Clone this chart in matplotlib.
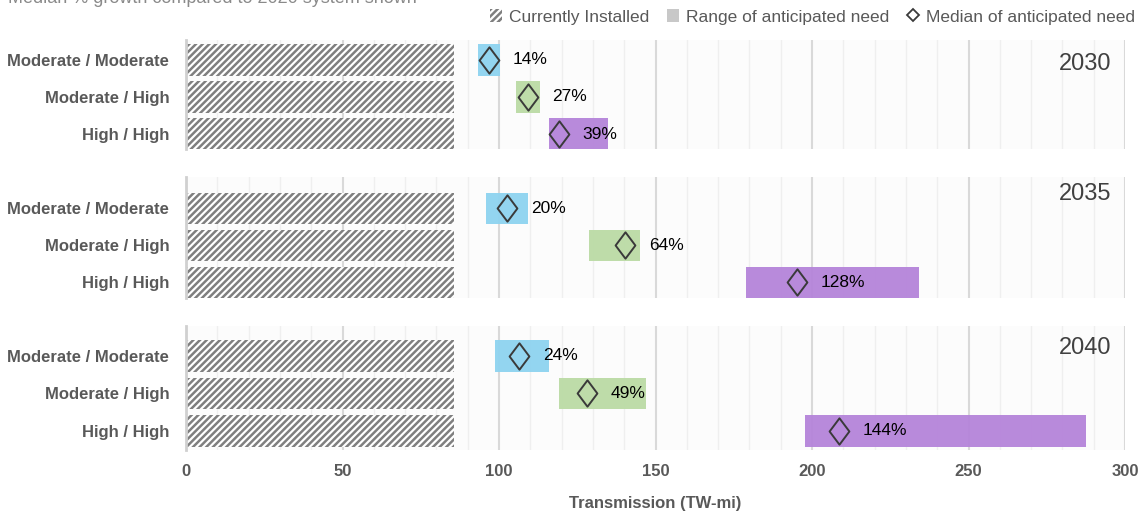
import matplotlib
matplotlib.use("Agg")
import matplotlib.pyplot as plt
from matplotlib import font_manager
from matplotlib.patches import Patch
from matplotlib.lines import Line2D
from matplotlib.path import Path
import numpy as np

names = {f.name for f in font_manager.fontManager.ttflist}
FONT = "Liberation Sans Narrow" if "Liberation Sans Narrow" in names else "Liberation Sans"
plt.rcParams["font.family"] = [FONT, "DejaVu Sans"]
plt.rcParams["hatch.linewidth"] = 1.8
plt.rcParams["hatch.color"] = "#7f7f7f"

# ---- data ----
years = ["2030", "2035", "2040"]
scenarios = ["Moderate / Moderate", "Moderate / High", "High / High"]
installed = 85.6
range_low = {"2030": [93.3, 105.4, 116.0],
             "2035": [95.8, 128.8, 178.9],
             "2040": [98.7, 119.2, 197.8]}
range_high = {"2030": [100.3, 113.1, 134.8],
              "2035": [109.3, 145.0, 234.2],
              "2040": [116.0, 147.0, 287.5]}
median = {"2030": [96.8, 109.3, 119.2],
          "2035": [102.6, 140.3, 195.2],
          "2040": [106.4, 128.1, 208.6]}
growth = {"2030": ["14%", "27%", "39%"],
          "2035": ["20%", "64%", "128%"],
          "2040": ["24%", "49%", "144%"]}
xticks = [0, 50, 100, 150, 200, 250, 300]

colors = ["#8ed3f0", "#bbdba5", "#b584da"]
gray_txt = "#595959"

W, H = 1145, 515
fig = plt.figure(figsize=(W / 100, H / 100), dpi=100)

diamond = Path([(0, 1), (0.75, 0), (0, -1), (-0.75, 0), (0, 1)],
               [Path.MOVETO, Path.LINETO, Path.LINETO, Path.LINETO, Path.CLOSEPOLY])

# panel pixel layout: (top, bottom, ylim_top, ylim_bottom, year_y)
panels = [(40, 149, -0.54, 2.405, 0.12),
          (177, 298, -0.84, 2.43, -0.38),
          (326, 450, -0.80, 2.51, -0.20)]
x0, x1 = 186, 1125

for i, yr in enumerate(years):
    top, bot, yt, yb, yy = panels[i]
    ax = fig.add_axes([x0 / W, 1 - bot / H, (x1 - x0) / W, (bot - top) / H])
    ax.set_facecolor("#fcfcfc")
    ax.set_xlim(0, 300)
    ax.set_ylim(yb, yt)
    ax.set_xticks(xticks)
    ax.set_xticks(np.arange(0, 301, 10), minor=True)
    ax.grid(axis="x", which="minor", color="#efefef", lw=1.0, zorder=0)
    ax.grid(axis="x", which="major", color="#d9d9d9", lw=1.5, zorder=0)
    ax.set_axisbelow(True)
    for s in ["top", "right", "bottom"]:
        ax.spines[s].set_visible(False)
    ax.spines["left"].set_color("#d0d0d0")
    ax.spines["left"].set_linewidth(2)
    ypos = np.arange(len(scenarios))
    ax.barh(ypos, [installed] * 3, height=0.84, color="white",
            hatch="/////", edgecolor="#7f7f7f", lw=0, zorder=2)
    lo = np.array(range_low[yr])
    hi = np.array(range_high[yr])
    ax.barh(ypos, hi - lo, left=lo, height=0.84, color=colors, alpha=0.95,
            lw=0, zorder=2)
    ax.plot(median[yr], ypos, ls="none", marker=diamond, markersize=19,
            markerfacecolor="none", markeredgecolor="#3a3a3a",
            markeredgewidth=1.4, zorder=3)
    for j, (m, g) in enumerate(zip(median[yr], growth[yr])):
        ax.annotate(g, (m, j), xytext=(17, 0), textcoords="offset points",
                    va="center", ha="left", fontsize=12.5, color="black", zorder=4)
    ax.set_yticks(ypos)
    ax.set_yticklabels(scenarios, fontsize=12, fontweight="bold", color=gray_txt)
    ax.tick_params(axis="y", length=0, pad=12)
    ax.tick_params(axis="x", which="both", length=0)
    ax.text(0.985, yy, yr, transform=ax.get_yaxis_transform(), ha="right",
            va="center", fontsize=17, color="#404040")
    if i < 2:
        ax.set_xticklabels([])
    else:
        ax.set_xticklabels([str(t) for t in xticks], fontsize=12,
                           fontweight="bold", color=gray_txt)
        ax.tick_params(axis="x", pad=10)
        ax.set_xlabel("Transmission (TW-mi)", fontsize=12, fontweight="bold",
                      color=gray_txt, labelpad=12)

fig.text(8 / W, 1 - 3 / H, "Median % growth compared to 2020 system shown",
         ha="left", va="baseline", fontsize=13, color="#8a8a8a")

handles = [Patch(facecolor="white", hatch="/////", edgecolor="#7f7f7f", lw=0),
           Patch(facecolor="#c8c8c8", lw=0),
           Line2D([], [], ls="none", marker="D", markersize=6,
                  markerfacecolor="none", markeredgecolor="#3a3a3a", markeredgewidth=1.3)]
labels = ["Currently Installed", "Range of anticipated need", "Median of anticipated need"]
fig.legend(handles, labels, loc="center right", bbox_to_anchor=(1.0, 1 - 17 / H),
           ncol=3, frameon=False, fontsize=12.5, labelcolor=gray_txt,
           handlelength=0.7, handleheight=0.7, handletextpad=0.4,
           columnspacing=1.0, borderaxespad=0.2)

fig.savefig("out.png", dpi=100)
